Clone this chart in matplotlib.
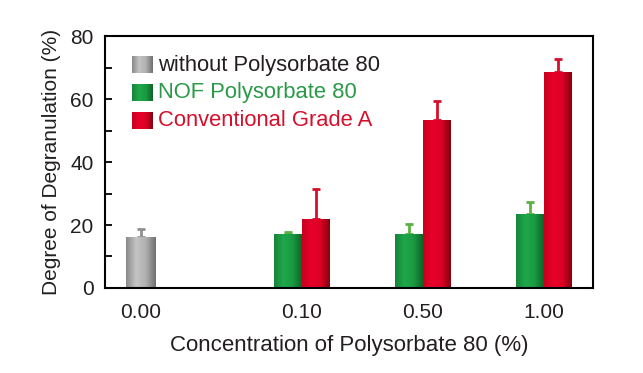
import matplotlib
matplotlib.use("Agg")
import matplotlib.pyplot as plt
import numpy as np
from matplotlib.colors import LinearSegmentedColormap

plt.rcParams['font.family'] = ['Liberation Sans', 'DejaVu Sans']

# data
concentrations = ['0.00', '0.10', '0.50', '1.00']
without_val = [16.2]
without_err = [2.4]
nof_val = [17.2, 17.2, 23.6]
nof_err = [0.5, 3.0, 3.6]
conv_val = [22.0, 53.5, 68.7]
conv_err = [9.5, 6.0, 4.0]
labels = ['without Polysorbate 80', 'NOF Polysorbate 80', 'Conventional Grade A']

xpos = np.array([0.0, 1.33, 2.33, 3.33])
w = 0.23

cm_gray = LinearSegmentedColormap.from_list('g', ['#8a8a8a', '#c4c4c4', '#b0b0b0', '#707070'])
cm_green = LinearSegmentedColormap.from_list('n', ['#17843a', '#1ea84a', '#1a9a42', '#0c6528'])
cm_red = LinearSegmentedColormap.from_list('r', ['#c8001c', '#e8002a', '#dc0024', '#85000f'])
grad = np.linspace(0, 1, 64).reshape(1, -1)

fig = plt.figure(figsize=(6.43, 3.73), dpi=100)
ax = fig.add_axes([0.163, 0.228, 0.759, 0.675])


def shaded_bars(x, vals, errs, cmap, ecolor, width):
    bars = ax.bar(x, vals, width, color='none', edgecolor='none', zorder=2)
    for b in bars:
        x0 = b.get_x()
        im = ax.imshow(grad, extent=[x0, x0 + b.get_width(), 0, b.get_height()],
                       aspect='auto', cmap=cmap, zorder=2)
        im.set_clip_path(b)
    ax.errorbar(x, vals, yerr=[np.zeros(len(vals)), errs], fmt='none',
                ecolor=ecolor, elinewidth=2, capsize=3, capthick=2, zorder=1)


shaded_bars(xpos[:1], without_val, without_err, cm_gray, '#8f8f8f', 0.245)
shaded_bars(xpos[1:] - w / 2, nof_val, nof_err, cm_green, '#5cb043', w)
shaded_bars(xpos[1:] + w / 2, conv_val, conv_err, cm_red, '#d4102c', w)

ax.set_yticks([0, 20, 40, 60, 80])
ax.set_yticks([10, 30, 50, 70], minor=True)
ax.set_xticks(xpos)
ax.set_xticklabels(concentrations)
ax.tick_params(axis='y', direction='in', length=5, width=1.3, labelsize=15, pad=8,
               labelcolor='#231f20')
ax.tick_params(axis='y', which='minor', direction='in', length=5, width=1.3)
ax.tick_params(axis='x', length=0, labelsize=15, pad=11, labelcolor='#231f20')
for s in ax.spines.values():
    s.set_linewidth(1.5)
ax.set_xlabel('Concentration of Polysorbate 80 (%)', fontsize=16, labelpad=9,
              color='#231f20')
ax.set_ylabel('Degree of Degranulation (%)', fontsize=15, labelpad=7, color='#231f20')

# legend
leg_cmaps = [cm_gray, cm_green, cm_red]
leg_colors = ['#231f20', '#2a9a48', '#d6102c']
for i, (lab, cm, tc) in enumerate(zip(labels, leg_cmaps, leg_colors)):
    y = 0.885 - i * 0.11
    ax.imshow(grad, extent=[0.055, 0.096, y - 0.032, y + 0.032], aspect='auto',
              cmap=cm, transform=ax.transAxes, zorder=3)
    ax.text(0.11, y, lab, transform=ax.transAxes, fontsize=15.8, color=tc,
            va='center', ha='left')

ax.set_xlim(-0.30, 3.735)
ax.set_ylim(0, 80)
fig.savefig('out.png', dpi=100)
